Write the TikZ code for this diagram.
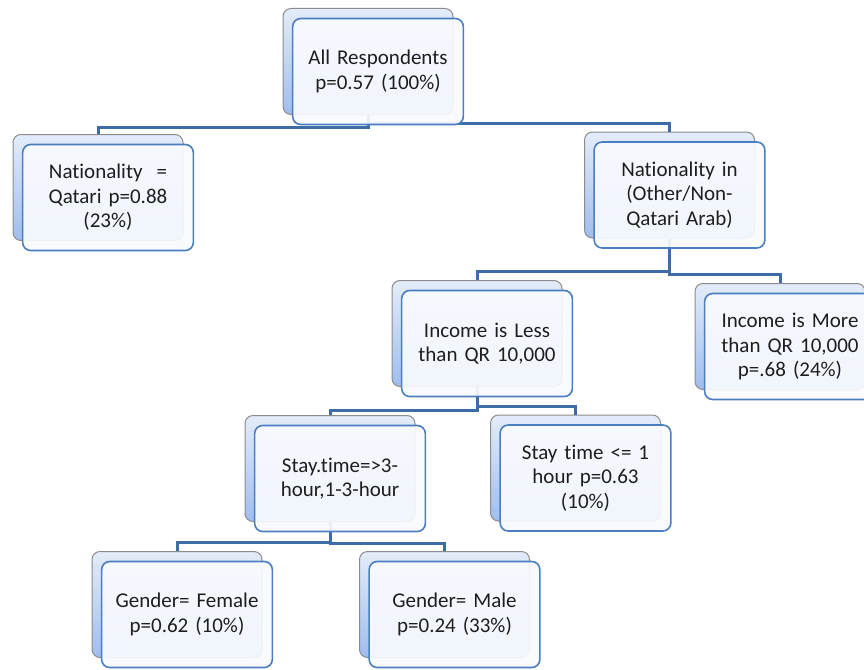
\documentclass[tikz,border=0pt]{standalone}
\usepackage{fontspec}
\setmainfont[Ligatures=NoCommon]{Carlito}
\usepackage{xcolor}
\usepackage{tikz}
\usetikzlibrary{calc,positioning}
\definecolor{linkblue}{HTML}{3D6CA6}
\definecolor{frameblue}{HTML}{4A7EC0}
\definecolor{backtop}{HTML}{E3ECF9}
\definecolor{backbottom}{HTML}{9FBDEE}
\definecolor{backframe}{HTML}{8C8C8C}
\definecolor{boxwhite}{HTML}{F8FAFE}
\definecolor{textdark}{HTML}{1E1E1E}
\tikzset{
  link/.style={linkblue,line width=3pt},
  backbox/.style={rectangle,rounded corners=8pt,draw=backframe,line width=1pt,
    top color=backtop,bottom color=backbottom,minimum width=170pt,minimum height=106pt},
  frontbox/.style={rectangle,rounded corners=8pt,draw=frameblue,line width=1.6pt,
    fill=boxwhite,fill opacity=.92,text opacity=1,text=textdark,
    minimum width=170pt,minimum height=106pt,text width=164pt,align=center,
    font=\fontsize{21pt}{24.5pt}\selectfont}
}

\begin{document}
\begin{tikzpicture}[x=1pt,y=-1pt]
\useasboundingbox (0,0) rectangle (864,669);
\clip (0,0) rectangle (864,669);
% back boxes
\node[backbox] (root-bk) at (368,61.5) {};
\node[backbox] (qatari-bk) at (98,187.5) {};
\node[backbox] (natin-bk) at (669.5,185) {};
\node[backbox] (incless-bk) at (477,333.5) {};
\node[backbox] (incmore-bk) at (780,336.5) {};
\node[backbox] (stayhi-bk) at (330,468.5) {};
\node[backbox] (staylo-bk) at (575.5,468) {};
\node[backbox] (female-bk) at (177,604.5) {};
\node[backbox] (male-bk) at (444.5,604.5) {};
% connectors
\foreach \a/\b/\d in {root/qatari/12.5,root/natin/8.5,natin/incless/32.7,natin/incmore/36,
  incless/stayhi/23.5,incless/staylo/19.5,stayhi/female/20,stayhi/male/21.5}
  \draw[link] (\a-bk.south) -- ++(0,\d) -| (\b-bk.north);
% front boxes
\node[frontbox] (root) at ($(root-bk)+(10,10)$) {All Respondents\\p=0.57 (100\%)};
\node[frontbox] (qatari) at ($(qatari-bk)+(10,10)$) {Nationality \ =\\Qatari p=0.88\\(23\%)};
\node[frontbox] (natin) at ($(natin-bk)+(10,10)$) {Nationality in\\(Other/Non-\\Qatari Arab)};
\node[frontbox] (incless) at ($(incless-bk)+(10,10)$) {Income is Less\\than QR 10,000};
\node[frontbox] (incmore) at ($(incmore-bk)+(10,10)$) {Income is More\\than QR 10,000\\p=.68 (24\%)};
\node[frontbox] (stayhi) at ($(stayhi-bk)+(10,10)$) {Stay.time=>3-\\hour,1-3-hour};
\node[frontbox] (staylo) at ($(staylo-bk)+(10,10)$) {Stay time <= 1\\hour p=0.63\\(10\%)};
\node[frontbox] (female) at ($(female-bk)+(10,10)$) {Gender= Female\\p=0.62 (10\%)};
\node[frontbox] (male) at ($(male-bk)+(10,10)$) {Gender= Male\\p=0.24 (33\%)};
\end{tikzpicture}
\end{document}
